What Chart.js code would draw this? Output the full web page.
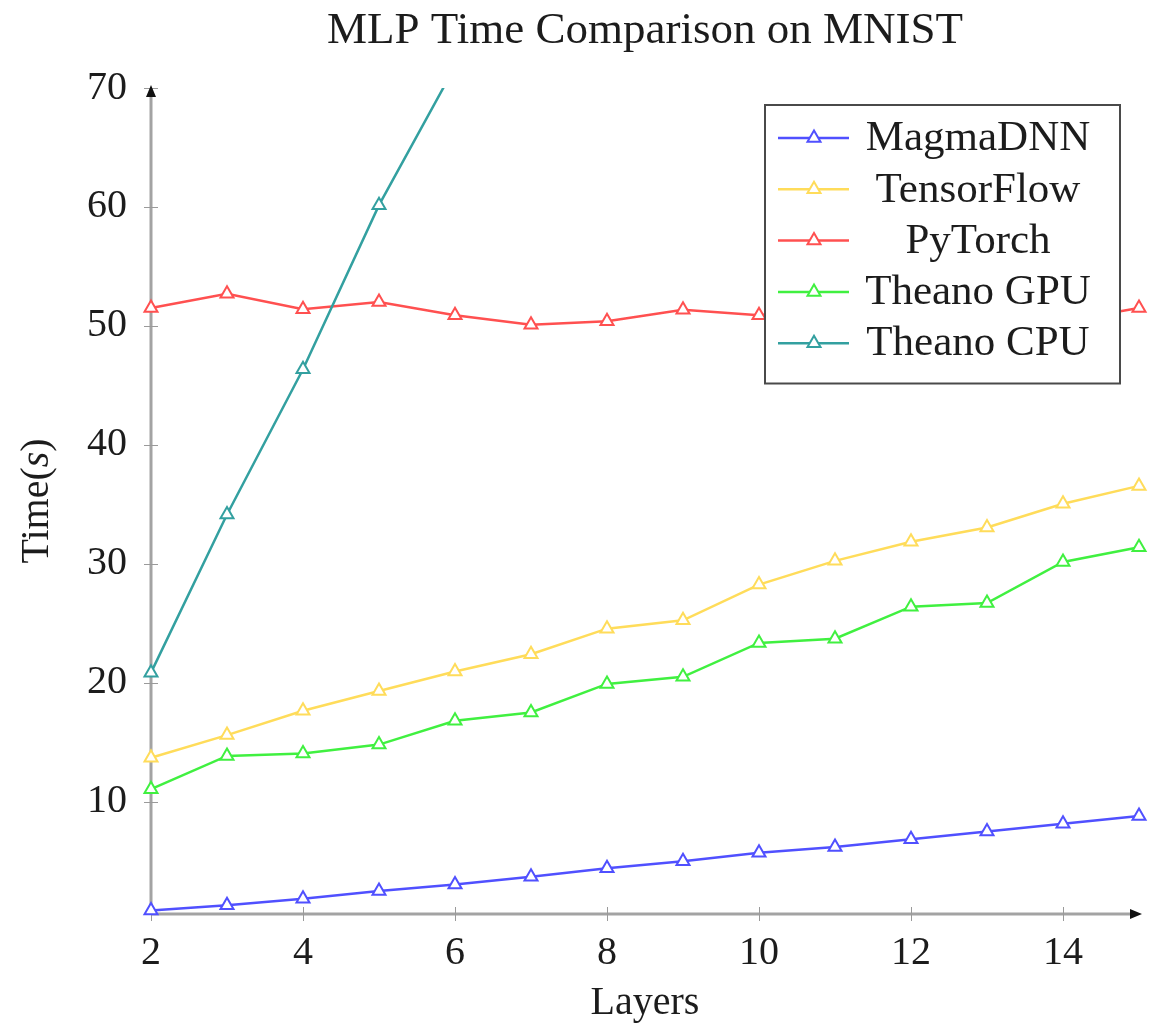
<!DOCTYPE html>
<html>
<head>
<meta charset="utf-8">
<title>MLP Time Comparison on MNIST</title>
<script src="https://cdn.jsdelivr.net/npm/chart.js@4.4.1/dist/chart.umd.min.js"></script>
<style>
    html, body { margin: 0; padding: 0; background: #ffffff; }
    #wrap { width: 1149px; height: 1029px; position: relative; }
</style>
</head>
<body>
<div id="wrap"><canvas id="timeChart"></canvas></div>
<script>
const LAYERS = [2, 3, 4, 5, 6, 7, 8, 9, 10, 11, 12, 13, 14, 15];
const X_TICKS = [2, 4, 6, 8, 10, 12, 14];
const Y_TICKS = [10, 20, 30, 40, 50, 60, 70];

const MAGMADNN   = [0.85, 1.3, 1.85, 2.5, 3.05, 3.7, 4.4, 5.0, 5.7, 6.2, 6.85, 7.5, 8.15, 8.8];
const TENSORFLOW = [13.7, 15.6, 17.65, 19.3, 20.95, 22.4, 24.55, 25.25, 28.25, 30.25, 31.85, 33.05, 35.05, 36.55];
const PYTORCH    = [51.5, 52.7, 51.4, 52.0, 50.9, 50.1, 50.4, 51.35, 50.9, 51.5, 50.8, 51.2, 50.4, 51.5];
const THEANO_GPU = [11.05, 13.85, 14.05, 14.8, 16.8, 17.5, 19.9, 20.5, 23.35, 23.7, 26.4, 26.7, 30.15, 31.4];
const THEANO_CPU = [20.85, 34.15, 46.35, 60.15, 71.8];

const TITLE = 'MLP Time Comparison on MNIST';
const SERIF = "'Liberation Serif', 'DejaVu Serif', serif";
const TEXT = '#1c1c1c';
const MARK_R = 7.5;

function pairs(values) {
    return values.map((v, i) => ({ x: LAYERS[i], y: v }));
}

function series(label, values, color, order) {
    return {
        label,
        data: pairs(values),
        borderColor: color,
        borderWidth: 2.5,
        pointStyle: 'triangle',
        pointRadius: MARK_R,
        pointHoverRadius: MARK_R,
        pointBorderWidth: 2,
        pointBorderColor: color,
        pointBackgroundColor: '#ffffff',
        tension: 0,
        fill: false,
        order,
        clip: { left: 14, right: 14, bottom: 14, top: 0 },
    };
}

function triangle(ctx, cx, cy, r) {
    ctx.beginPath();
    for (let k = 0; k < 3; k++) {
        const ang = k * 2 * Math.PI / 3;
        const px = cx + Math.sin(ang) * r;
        const py = cy - Math.cos(ang) * r;
        k === 0 ? ctx.moveTo(px, py) : ctx.lineTo(px, py);
    }
    ctx.closePath();
}

// pgfplots style "axis lines = left": gray lines, black arrow tips, ticks crossing the line
const axisLines = {
    id: 'axisLines',
    beforeDatasetsDraw(chart) {
        const { ctx, chartArea: a, scales: { x, y } } = chart;
        ctx.save();
        ctx.strokeStyle = '#a3a3a3';
        ctx.lineWidth = 3;
        ctx.beginPath();
        ctx.moveTo(a.left, a.bottom);
        ctx.lineTo(a.left, a.top + 4);
        ctx.moveTo(a.left, a.bottom);
        ctx.lineTo(a.right - 4, a.bottom);
        ctx.stroke();

        ctx.strokeStyle = '#9a9a9a';
        ctx.lineWidth = 1;
        ctx.beginPath();
        X_TICKS.forEach(v => {
            const px = Math.round(x.getPixelForValue(v)) + 0.5;
            ctx.moveTo(px, a.bottom - 7);
            ctx.lineTo(px, a.bottom + 7);
        });
        Y_TICKS.forEach(v => {
            const py = Math.round(y.getPixelForValue(v)) + 0.5;
            ctx.moveTo(a.left - 7, py);
            ctx.lineTo(a.left + 7, py);
        });
        ctx.stroke();

        ctx.fillStyle = '#111111';
        ctx.beginPath();
        ctx.moveTo(a.left, a.top - 3);
        ctx.lineTo(a.left - 5, a.top + 9);
        ctx.lineTo(a.left + 5, a.top + 9);
        ctx.closePath();
        ctx.moveTo(a.right + 3, a.bottom);
        ctx.lineTo(a.right - 9, a.bottom - 5);
        ctx.lineTo(a.right - 9, a.bottom + 5);
        ctx.closePath();
        ctx.fill();
        ctx.restore();
    }
};

// title centred over the plot area, y title with the italic s of the original
const titles = {
    id: 'titles',
    afterDraw(chart) {
        const { ctx, chartArea: a } = chart;
        ctx.save();
        ctx.fillStyle = TEXT;
        ctx.textAlign = 'center';
        ctx.textBaseline = 'middle';
        ctx.font = `45px ${SERIF}`;
        ctx.fillText(TITLE, (a.left + a.right) / 2, 31);

        const upright = `40px ${SERIF}`;
        const italic = `italic 40px ${SERIF}`;
        const parts = [['Time(', upright], ['s', italic], [')', upright]];
        ctx.translate(37, (a.top + a.bottom) / 2);
        ctx.rotate(-Math.PI / 2);
        ctx.textAlign = 'left';
        let total = 0;
        parts.forEach(([t, f]) => { ctx.font = f; total += ctx.measureText(t).width; });
        let cx = -total / 2;
        parts.forEach(([t, f]) => {
            ctx.font = f;
            ctx.fillText(t, cx, 0);
            cx += ctx.measureText(t).width;
        });
        ctx.restore();
    }
};

// boxed legend with centred entries, drawn over the lines
const boxLegend = {
    id: 'boxLegend',
    afterDatasetsDraw(chart) {
        const { ctx, chartArea: a } = chart;
        const right = a.right - 19;
        const left = right - 355;
        const top = a.top + 17;
        const rowH = 51.3;
        const sets = chart.data.datasets;
        const bottom = top + 22 + rowH * sets.length;
        ctx.save();
        ctx.fillStyle = '#ffffff';
        ctx.fillRect(left, top, right - left, bottom - top);
        ctx.strokeStyle = '#4a4a4a';
        ctx.lineWidth = 2;
        ctx.strokeRect(left, top, right - left, bottom - top);

        sets.forEach((ds, i) => {
            const cy = top + 33 + i * rowH;
            ctx.strokeStyle = ds.borderColor;
            ctx.lineWidth = 2.5;
            ctx.beginPath();
            ctx.moveTo(left + 13, cy);
            ctx.lineTo(left + 84, cy);
            ctx.stroke();

            ctx.fillStyle = '#ffffff';
            ctx.lineWidth = 2;
            triangle(ctx, left + 49, cy, MARK_R);
            ctx.fill();
            ctx.stroke();

            ctx.fillStyle = TEXT;
            ctx.font = `43px ${SERIF}`;
            ctx.textAlign = 'center';
            ctx.textBaseline = 'middle';
            ctx.fillText(ds.label, left + 213, cy + 1);
        });
        ctx.restore();
    }
};

new Chart(document.getElementById('timeChart'), {
    type: 'line',
    data: {
        datasets: [
            series('MagmaDNN', MAGMADNN, '#5050ff', 5),
            series('TensorFlow', TENSORFLOW, '#ffdc5a', 4),
            series('PyTorch', PYTORCH, '#ff5050', 3),
            series('Theano GPU', THEANO_GPU, '#40f040', 2),
            series('Theano CPU', THEANO_CPU, '#33a0a0', 1),
        ]
    },
    options: {
        responsive: true,
        maintainAspectRatio: false,
        animation: false,
        devicePixelRatio: 1,
        layout: { padding: { left: 0, right: 10, top: 88, bottom: 0 } },
        plugins: {
            legend: { display: false },
            tooltip: { enabled: false },
            title: { display: false },
        },
        scales: {
            x: {
                type: 'linear',
                min: 2,
                max: 15,
                grid: { display: false, drawTicks: false },
                border: { display: false },
                afterBuildTicks: (scale) => { scale.ticks = X_TICKS.map(v => ({ value: v })); },
                afterFit: (scale) => { scale.height = 115; },
                ticks: { color: TEXT, font: { family: SERIF, size: 40 }, padding: 15, maxRotation: 0 },
                title: {
                    display: true,
                    text: 'Layers',
                    color: TEXT,
                    font: { family: SERIF, size: 40 },
                    padding: { top: 0, bottom: 2 },
                },
            },
            y: {
                type: 'linear',
                min: 0.56,
                max: 70,
                grid: { display: false, drawTicks: false },
                border: { display: false },
                afterBuildTicks: (scale) => { scale.ticks = Y_TICKS.map(v => ({ value: v })); },
                afterFit: (scale) => { scale.width = 151; },
                ticks: { color: TEXT, font: { family: SERIF, size: 40 }, padding: 24 },
            },
        },
    },
    plugins: [axisLines, boxLegend, titles],
});
</script>
</body>
</html>
